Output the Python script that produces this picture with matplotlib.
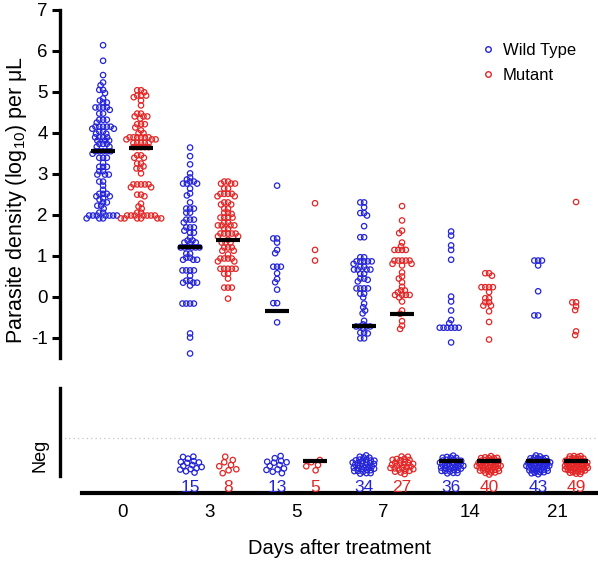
import numpy as np
import matplotlib
matplotlib.use("Agg")
import matplotlib.pyplot as plt
from matplotlib.lines import Line2D

plt.rcParams['font.family'] = ['Liberation Sans', 'DejaVu Sans']
plt.rcParams['mathtext.fontset'] = 'custom'
plt.rcParams['mathtext.rm'] = 'Liberation Sans'
plt.rcParams['axes.unicode_minus'] = False

# ---- data (log10 parasites per uL) ----
days = ['0', '3', '5', '7', '14', '21']

wt_d0 = [6.14, 5.76, 5.41, 5.23, 5.16, 5.05, 5.05, 4.97, 4.84, 4.79, 4.74, 4.74,
         4.62, 4.62, 4.62, 4.62, 4.56, 4.47, 4.47, 4.32, 4.32, 4.32, 4.25, 4.15,
         4.15, 4.15, 4.15, 4.15, 4.10, 4.10, 4.03, 4.03, 3.98, 3.98, 3.89, 3.89,
         3.89, 3.89, 3.81, 3.81, 3.81, 3.73, 3.73, 3.73, 3.66, 3.66, 3.55, 3.55,
         3.55, 3.55, 3.55, 3.49, 3.39, 3.39, 3.39, 3.27, 3.17, 3.17, 3.17, 3.06,
         3.06, 2.98, 2.98, 2.98, 2.81, 2.81, 2.71, 2.61, 2.51, 2.51, 2.51, 2.45,
         2.45, 2.40, 2.37, 2.30, 2.30, 2.22, 2.22, 2.15, 2.05, 2.05, 1.98, 1.98,
         1.98, 1.98, 1.98, 1.98, 1.98, 1.91, 1.91, 1.91]
mut_d0 = [5.04, 5.04, 4.99, 4.91, 4.91, 4.91, 4.87, 4.79, 4.67, 4.47, 4.47, 4.40,
          4.40, 4.40, 4.35, 4.21, 4.21, 4.21, 4.13, 4.06, 3.99, 3.99, 3.89, 3.89,
          3.89, 3.89, 3.89, 3.89, 3.84, 3.84, 3.84, 3.75, 3.75, 3.75, 3.75, 3.75,
          3.65, 3.65, 3.65, 3.65, 3.65, 3.45, 3.45, 3.39, 3.39, 3.25, 3.25, 3.18,
          3.13, 3.13, 3.01, 2.74, 2.74, 2.74, 2.74, 2.74, 2.67, 2.67, 2.49, 2.49,
          2.45, 2.27, 2.20, 2.15, 2.05, 2.05, 1.98, 1.98, 1.98, 1.98, 1.98, 1.98,
          1.98, 1.91, 1.91, 1.91, 1.91, 1.91, 1.91]
wt_d3 = [3.64, 3.43, 3.23, 3.01, 2.91, 2.86, 2.81, 2.81, 2.76, 2.76, 2.76, 2.64,
         2.52, 2.47, 2.30, 2.15, 2.15, 2.15, 2.05, 2.05, 1.88, 1.88, 1.88, 1.81,
         1.69, 1.69, 1.69, 1.61, 1.56, 1.56, 1.44, 1.37, 1.37, 1.32, 1.32, 1.30,
         1.22, 1.20, 1.20, 1.20, 1.20, 1.20, 1.05, 1.05, 0.95, 0.95, 0.90, 0.90,
         0.90, 0.64, 0.64, 0.64, 0.64, 0.51, 0.39, 0.39, 0.34, 0.34, 0.34, 0.27,
         -0.17, -0.17, -0.17, -0.17, -0.90, -1.00, -1.39]
mut_d3 = [2.81, 2.81, 2.76, 2.76, 2.76, 2.64, 2.64, 2.51, 2.51, 2.51, 2.51, 2.45,
          2.45, 2.30, 2.30, 2.25, 2.25, 2.15, 2.15, 2.05, 2.05, 2.02, 1.93, 1.93,
          1.93, 1.93, 1.81, 1.81, 1.74, 1.74, 1.74, 1.74, 1.66, 1.66, 1.54, 1.54,
          1.54, 1.54, 1.54, 1.47, 1.47, 1.39, 1.32, 1.32, 1.32, 1.20, 1.20, 1.20,
          1.12, 1.12, 1.03, 0.93, 0.93, 0.93, 0.93, 0.86, 0.86, 0.68, 0.68, 0.68,
          0.68, 0.68, 0.56, 0.56, 0.44, 0.22, 0.22, 0.22, -0.05]
wt_d5 = [2.71, 1.42, 1.42, 1.32, 1.14, 1.06, 0.73, 0.73, 0.73, 0.57, 0.43, 0.35,
         0.17, -0.16, -0.16, -0.63]
mut_d5 = [2.28, 1.14, 0.88]
wt_d7 = [2.30, 2.30, 2.18, 2.04, 2.04, 1.98, 1.72, 1.45, 1.45, 0.96, 0.96, 0.86,
         0.86, 0.86, 0.86, 0.86, 0.80, 0.73, 0.73, 0.66, 0.66, 0.66, 0.66, 0.56,
         0.56, 0.44, 0.44, 0.41, 0.37, 0.20, 0.20, 0.20, 0.20, 0.07, 0.07, -0.02,
         -0.17, -0.26, -0.34, -0.41, -0.59, -0.68, -0.73, -0.73, -0.73, -0.73,
         -0.78, -0.88, -0.88, -0.90, -1.02, -1.02]
mut_d7 = [2.21, 1.86, 1.61, 1.55, 1.32, 1.23, 1.14, 1.14, 1.14, 1.14, 0.88, 0.88,
          0.88, 0.88, 0.88, 0.80, 0.80, 0.76, 0.59, 0.49, 0.44, 0.35, 0.24, 0.15,
          0.15, 0.10, 0.04, 0.04, 0.04, 0.04, -0.02, -0.12, -0.34, -0.42, -0.60,
          -0.71, -0.79]
wt_d14 = [1.59, 1.49, 1.25, 1.14, 0.90, 0.00, -0.12, -0.34, -0.57, -0.65, -0.76,
          -0.76, -0.76, -0.76, -0.76, -0.76, -1.12]
mut_d14 = [0.57, 0.57, 0.51, 0.23, 0.23, 0.23, 0.23, 0.11, -0.04, -0.04, -0.14,
           -0.14, -0.22, -0.22, -0.36, -0.62, -1.05]
wt_d21 = [0.88, 0.88, 0.88, 0.76, 0.13, -0.46, -0.46]
mut_d21 = [2.31, -0.14, -0.14, -0.24, -0.33, -0.85, -0.94]

wt_pos = [wt_d0, wt_d3, wt_d5, wt_d7, wt_d14, wt_d21]
mut_pos = [mut_d0, mut_d3, mut_d5, mut_d7, mut_d14, mut_d21]

# number of parasite-negative samples
wt_neg = [0, 15, 13, 34, 36, 43]
mut_neg = [0, 8, 5, 27, 40, 49]

# medians (None = median lies in the Neg group)
wt_median = [3.55, 1.20, -0.34, -0.73, None, None]
mut_median = [3.62, 1.39, None, -0.42, None, None]

BLUE = '#2424d8'
RED = '#e32626'

# ---- layout ----
W, H = 598, 565
PX_X = 87.0                 # pixels per day slot
PX_Y = 348 / 8.5            # pixels per log unit
OFF = 0.218                 # group offset from day centre
XLIM = (-0.713, 5.47)
D = 3.8                     # swarm spacing in px


def swarm(vals, d=D):
    ys = np.asarray(vals, dtype=float) * PX_Y
    xs = np.zeros(len(ys))
    placed = []
    for i in np.argsort(-ys, kind='stable'):
        y = ys[i]
        iv = []
        for xj, yj in placed:
            dy = abs(y - yj)
            if dy < d:
                w = np.sqrt(d * d - dy * dy)
                iv.append((xj - w, xj + w))
        cands = [0.0] + [a for a, b in iv] + [b for a, b in iv]
        cands.sort(key=lambda c: (round(abs(c), 6), c))
        for c in cands:
            if all(not (a + 1e-6 < c < b - 1e-6) for a, b in iv):
                xs[i] = c
                break
        placed.append((xs[i], y))
    return xs / PX_X


def blob(n):
    k = np.arange(n)
    c = min(4.2, 12.5 / np.sqrt(max(n, 1)))
    r = c * np.sqrt(k + 0.5)
    th = k * np.pi * (3 - np.sqrt(5))
    return r * np.cos(th) / PX_X, 0.8 * r * np.sin(th)


fig = plt.figure(figsize=(W / 100, H / 100), dpi=100)
ax = fig.add_axes([60 / W, 1 - 358 / H, 538 / W, 348 / H])
axb = fig.add_axes([60 / W, 1 - 493 / H, 538 / W, 105 / H])

for a in (ax, axb):
    a.set_xlim(*XLIM)
    a.patch.set_alpha(0)
    for s in ('top', 'right'):
        a.spines[s].set_visible(False)

# upper panel
ax.set_ylim(-1.5, 7)
ax.spines['bottom'].set_visible(False)
ax.spines['left'].set_linewidth(2.4)
ax.set_xticks([])
ax.set_yticks(range(-1, 8))
ax.tick_params(axis='y', length=6, width=2.2, labelsize=13.5, pad=3)

mk = dict(s=15, facecolors='none', linewidths=0.9)
for i in range(len(days)):
    for vals, off, col, med in ((wt_pos[i], -OFF, BLUE, wt_median[i]),
                                (mut_pos[i], OFF, RED, mut_median[i])):
        xo = swarm(vals)
        ax.scatter(i + off + xo, vals, edgecolors=col, **mk, zorder=2)
        if med is not None:
            ax.hlines(med, i + off - 0.14, i + off + 0.14, color='k', lw=3, zorder=3)

handles = [Line2D([], [], ls='none', marker='o', ms=4, mfc='none', mec=BLUE, mew=1.0),
           Line2D([], [], ls='none', marker='o', ms=4, mfc='none', mec=RED, mew=1.0)]
ax.legend(handles, ['Wild Type', 'Mutant'], loc='upper left', frameon=False,
          bbox_to_anchor=(466 / W, 1 - 28 / H), bbox_transform=fig.transFigure,
          fontsize=12, handlelength=0.8, handletextpad=0.5, labelspacing=0.6)

# lower (Neg) panel, y in pixels above the x-axis line
NEG_Y = 28
ax_b_top = 105
axb.set_ylim(0, ax_b_top)
axb.set_yticks([])
axb.spines['left'].set_linewidth(2.4)
axb.spines['left'].set_bounds(17, ax_b_top)
axb.spines['bottom'].set_linewidth(3)
axb.spines['bottom'].set_bounds((82 - 122) / PX_X, XLIM[1])
axb.set_xticks(range(len(days)))
axb.set_xticklabels(days)
axb.tick_params(axis='x', length=0, labelsize=13.5, pad=8)
axb.axhline(55, color='#c4c4c4', lw=0.9, ls=(0, (1, 2.5)))

for i in range(len(days)):
    for n, off, col, has_med in ((wt_neg[i], -OFF, BLUE, wt_median[i] is None),
                                 (mut_neg[i], OFF, RED, mut_median[i] is None)):
        if n == 0:
            continue
        bx, by = blob(n)
        axb.scatter(i + off + bx, NEG_Y + by, edgecolors=col, **mk, zorder=2)
        if has_med:
            axb.hlines(NEG_Y + 4, i + off - 0.14, i + off + 0.14, color='k', lw=3, zorder=3)
        axb.text(i + off, 6, str(n), color=col, ha='center', va='center', fontsize=12.5)

fig.text(17 / W, 1 - 200 / H, r'Parasite density (log$_{\mathregular{10}}$) per μL',
         rotation=90, ha='center', va='center', fontsize=15.5)
fig.text(40 / W, 1 - 455 / H, 'Neg', rotation=90, ha='center', va='center', fontsize=13)
fig.text(340 / W, 1 - 549 / H, 'Days after treatment', ha='center', va='center', fontsize=14.5)

fig.savefig('out.png', dpi=100)
